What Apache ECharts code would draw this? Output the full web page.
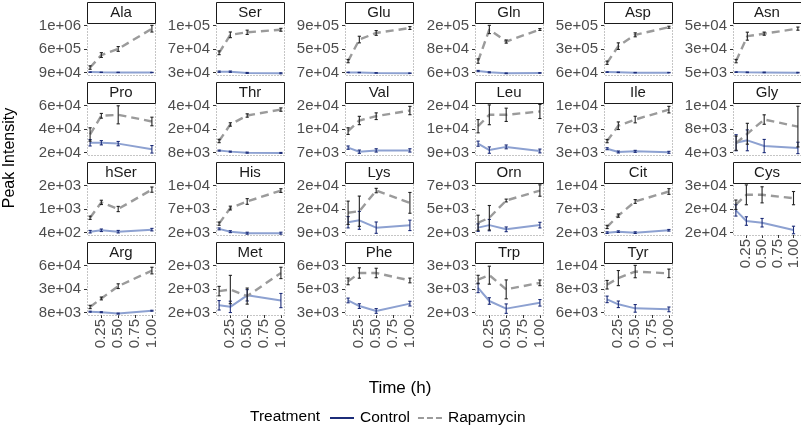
<!DOCTYPE html>
<html><head><meta charset="utf-8">
<script src="https://cdn.jsdelivr.net/npm/echarts@6/dist/echarts.min.js"></script>
<style>html,body{margin:0;padding:0;background:#fff}#c{width:801px;height:425px}</style>
</head><body><div id="c"></div>
<script>
// ---- data ----
const amino = ['Ala','Ser','Glu','Gln','Asp','Asn','Pro','Thr','Val','Leu','Ile','Gly','hSer','His','Lys','Orn','Cit','Cys','Arg','Met','Phe','Trp','Tyr'];
const times = [0.0833, 0.25, 0.5, 1.0];
const xTickValues = [0.25, 0.5, 0.75, 1.0];
const xTickLabels = ['0.25','0.50','0.75','1.00'];
// y breaks (bottom, middle, top) and their printed labels
const yTickValues = [
  [9e4,5.45e5,1.0e6],[3e4,6.75e4,1.05e5],[7e4,4.85e5,9e5],[6e3,8.05e4,1.55e5],[6e4,2.75e5,4.9e5],[5e3,2.75e4,5e4],
  [1.8e4,4.0e4,6.2e4],[8e3,2.2e4,3.6e4],[7e3,1.125e4,1.55e4],[8.6e3,1.23e4,1.6e4],[3e3,6.6e3,1.02e4],[3.7e3,7.85e3,1.2e4],
  [400,1150,1900],[2.2e3,6.6e3,1.1e4],[9e3,1.65e4,2.4e4],[2e3,4.7e3,7.4e3],[2.2e3,6.6e3,1.1e4],[1.6e4,2.1e4,2.6e4],
  [8e3,3.3e4,5.8e4],[1550,2000,2450],[3.2e3,4.75e3,6.3e3],[2.0e3,2.65e3,3.3e3],[5.8e3,7.9e3,1.0e4]
];
const yTickLabels = [
  ['9e+04','6e+05','1e+06'],['3e+04','7e+04','1e+05'],['7e+04','5e+05','9e+05'],['6e+03','8e+04','2e+05'],['6e+04','3e+05','5e+05'],['5e+03','3e+04','5e+04'],
  ['2e+04','4e+04','6e+04'],['8e+03','2e+04','4e+04'],['7e+03','1e+04','2e+04'],['9e+03','1e+04','2e+04'],['3e+03','7e+03','1e+04'],['4e+03','8e+03','1e+04'],
  ['4e+02','1e+03','2e+03'],['2e+03','7e+03','1e+04'],['9e+03','2e+04','2e+04'],['2e+03','5e+03','7e+03'],['2e+03','7e+03','1e+04'],['2e+04','2e+04','3e+04'],
  ['8e+03','3e+04','6e+04'],['2e+03','2e+03','2e+03'],['3e+03','5e+03','6e+03'],['2e+03','3e+03','3e+03'],['6e+03','8e+03','1e+04']
];
const controlMean = [
  [1.0e5,9.6e4,9.5e4,9.3e4],[3.15e4,3.15e4,2.95e4,2.9e4],[7.4e4,7.2e4,6.5e4,6.0e4],[1.1e4,7e3,4e3,5e3],[6.5e4,6.3e4,6.0e4,6.0e4],[5.5e3,5.3e3,5.2e3,5.0e3],
  [2.72e4,2.72e4,2.64e4,2.11e4],[9.2e3,8.6e3,8.0e3,7.8e3],[7.9e3,7.17e3,7.4e3,7.4e3],[1.0e4,9.0e3,9.5e3,8.86e3],[3.6e3,3.1e3,3.2e3,3.05e3],[5.44e3,5.86e3,4.86e3,4.53e3],
  [430,475,430,495],[2.9e3,2.38e3,2.1e3,2.1e3],[1.23e4,1.29e4,1.058e4,1.131e4],[2.57e3,2.86e3,2.38e3,2.86e3],[2.2e3,2.38e3,2.2e3,2.64e3],[2.07e4,1.845e4,1.81e4,1.656e4],
  [9e3,8.5e3,7e3,1.0e4],[1690,1660,1880,1780],[4.0e3,3.63e3,3.31e3,3.79e3],[2.68e3,2.32e3,2.11e3,2.27e3],[6.98e3,6.54e3,6.18e3,6.09e3]
];
const controlSE = [
  [4e3,3e3,3e3,3e3],[1e3,1e3,800,800],[4e3,3e3,3e3,3e3],[2e3,1.5e3,1e3,1e3],[3e3,2e3,2e3,2e3],[300,300,300,300],
  [3e3,2e3,2e3,3.5e3],[300,300,300,300],[300,300,300,300],[400,500,300,300],[150,150,150,150],[1410,1830,1160,1000],
  [40,40,40,40],[180,180,180,180],[1800,2850,1800,1650],[430,650,270,320],[150,150,150,150],[1200,900,900,800],
  [500,500,500,500],[90,108,108,135],[155,155,155,155],[130,90,130,90],[290,290,340,210]
];
const rapaMean = [
  [1.88e5,4.29e5,5.46e5,9.36e5],[6.15e4,9.0e4,9.4e4,9.8e4],[2.73e5,6.51e5,7.67e5,8.53e5],[4.25e4,1.42e5,1.04e5,1.42e5],[1.5e5,3.01e5,4.04e5,4.73e5],[1.6e4,3.97e4,4.21e4,4.69e4],
  [3.49e4,5.23e4,5.32e4,4.7e4],[1.49e4,2.47e4,3.0e4,3.35e4],[1.087e4,1.278e4,1.355e4,1.457e4],[1.274e4,1.452e4,1.452e4,1.504e4],[4.76e3,7.1e3,8.04e3,9.55e3],[5.36e3,7.02e3,9.51e3,8.27e3],
  [872,1360,1150,1765],[3.87e3,6.78e3,8.0e3,1.003e4],[1.53e4,1.58e4,2.235e4,1.845e4],[3.13e3,3.7e3,5.67e3,6.81e3],[3.26e3,5.37e3,8.0e3,9.86e3],[2.19e4,2.4e4,2.4e4,2.33e4],
  [1.4e4,2.3e4,3.6e4,5.25e4],[1960,1990,1865,2306],[5.25e3,5.8e3,5.8e3,5.31e3],[2.91e3,3.03e3,2.64e3,2.82e3],[8.28e3,8.87e3,9.45e3,9.29e3]
];
const rapaSE = [
  [3.3e4,4.6e4,4.6e4,6.4e4],[3e3,4.5e3,3.4e3,2.3e3],[2.9e4,5.8e4,4.2e4,2.5e4],[7e3,1.3e4,5e3,3e3],[1.5e4,3e4,1.8e4,9e3],[1.6e3,3.8e3,1.5e3,1.5e3],
  [6.2e3,2.2e3,8.4e3,4e3],[1e3,1e3,1e3,1e3],[600,750,600,750],[1040,1550,1040,1100],[250,580,500,500],[1250,1830,830,3570],
  [52,68,83,83],[300,350,530,350],[3700,4800,700,3300],[860,1400,160,650],[300,300,350,530],[1000,2100,1700,1400],
  [1750,1500,2500,3500],[90,270,153,108],[220,340,310,155],[117,247,260,78],[380,670,550,380]
];

// ---- layout / styles ----
const FONT = 'Liberation Sans, Arial, Helvetica, sans-serif';
const colLeft = c => Math.round(87 + c * 129.2);
const PW = 68, PH = 52;
const navy = '#1c2c78', ctrlLine = '#8da1d1', rapaLine = '#9b9b9b', rapaBar = '#222222';

const grids = [], xAxes = [], yAxes = [], series = [], graphics = [];

function errRender(color) {
  return function (params, api) {
    const x = api.value(0), lo = api.value(1), hi = api.value(2);
    const p1 = api.coord([x, lo]), p2 = api.coord([x, hi]);
    const w = 1.6;
    const st = { stroke: color, lineWidth: 1.1 };
    return { type: 'group', children: [
      { type: 'line', shape: { x1: p1[0], y1: p1[1], x2: p2[0], y2: p2[1] }, style: st },
      { type: 'line', shape: { x1: p1[0] - w, y1: p1[1], x2: p1[0] + w, y2: p1[1] }, style: st },
      { type: 'line', shape: { x1: p2[0] - w, y1: p2[1], x2: p2[0] + w, y2: p2[1] }, style: st }
    ]};
  };
}

amino.forEach((name, i) => {
  let row, col;
  if (i < 18) { row = Math.floor(i / 6); col = i % 6; } else { row = 3; col = i - 18; }
  const left = colLeft(col), top = 23 + row * 80;
  const bottomPanel = (i >= 18) || i === 17;
  grids.push({ left: left, top: top, width: PW, height: PH, show: false });
  const tMin = times[0], tMax = times[times.length - 1], tR = tMax - tMin;
  xAxes.push({
    type: 'value', gridIndex: i, min: tMin - 0.05 * tR, max: tMax + 0.05 * tR,
    axisLine: { show: false }, splitLine: { show: false },
    axisTick: { show: bottomPanel, customValues: xTickValues, length: 3, lineStyle: { color: '#333' } },
    axisLabel: { show: bottomPanel, customValues: xTickValues, rotate: 90, margin: 4,
      fontSize: 15, color: '#4d4d4d', fontFamily: FONT,
      formatter: v => { const k = xTickValues.findIndex(t => Math.abs(t - v) < 1e-6); return k >= 0 ? xTickLabels[k] : ''; } }
  });
  const yb = yTickValues[i], yr = yb[2] - yb[0];
  yAxes.push({
    type: 'value', gridIndex: i, min: yb[0] - 0.05 * yr, max: yb[2] + 0.05 * yr,
    axisLine: { show: false }, splitLine: { show: false },
    axisTick: { show: true, customValues: yb, length: 3, lineStyle: { color: '#333' } },
    axisLabel: { show: true, customValues: yb, margin: 6, fontSize: 15, color: '#4d4d4d', fontFamily: FONT,
      formatter: v => { let k = 0, d = Infinity; yb.forEach((b, j) => { const dd = Math.abs(b - v); if (dd < d) { d = dd; k = j; } }); return yTickLabels[i][k]; } }
  });
  // panel border (dotted)
  graphics.push({ type: 'rect', shape: { x: left + 0.5, y: top + 0.5, width: PW, height: PH },
    style: { fill: 'none', stroke: '#8a8a8a', lineWidth: 1, lineDash: [1, 2] }, z: 1, silent: true });
  // strip
  graphics.push({ type: 'rect', shape: { x: left + 0.5, y: top - 20.5, width: PW, height: 21 },
    style: { fill: '#ffffff', stroke: '#1a1a1a', lineWidth: 1 }, z: 2, silent: true });
  graphics.push({ type: 'text', x: left + PW / 2, y: top - 10,
    style: { text: name, fontSize: 15, fontFamily: FONT, fill: '#1a1a1a', align: 'center', verticalAlign: 'middle' }, z: 3, silent: true });

  series.push({ name: 'Control', type: 'line', xAxisIndex: i, yAxisIndex: i, symbol: 'none',
    data: times.map((t, k) => [t, controlMean[i][k]]), lineStyle: { color: ctrlLine, width: 2 }, itemStyle: { color: navy }, z: 2, animation: false });
  series.push({ name: 'Rapamycin', type: 'line', xAxisIndex: i, yAxisIndex: i, symbol: 'none',
    data: times.map((t, k) => [t, rapaMean[i][k]]), lineStyle: { color: rapaLine, width: 2.4, type: [8, 5] }, itemStyle: { color: rapaLine }, z: 2, animation: false });
  series.push({ name: 'ctrlErr' + i, type: 'custom', xAxisIndex: i, yAxisIndex: i, renderItem: errRender(navy),
    data: times.map((t, k) => [t, controlMean[i][k] - controlSE[i][k], controlMean[i][k] + controlSE[i][k]]),
    encode: { x: 0, y: [1, 2] }, z: 3, animation: false });
  series.push({ name: 'rapaErr' + i, type: 'custom', xAxisIndex: i, yAxisIndex: i, renderItem: errRender(rapaBar),
    data: times.map((t, k) => [t, rapaMean[i][k] - rapaSE[i][k], rapaMean[i][k] + rapaSE[i][k]]),
    encode: { x: 0, y: [1, 2] }, z: 3, animation: false });
});

graphics.push({ type: 'text', x: 10, y: 158, rotation: Math.PI / 2,
  style: { text: 'Peak Intensity', fontSize: 16, fontFamily: FONT, fill: '#000', align: 'center', verticalAlign: 'middle' } });
graphics.push({ type: 'text', x: 400, y: 388,
  style: { text: 'Time (h)', fontSize: 17, fontFamily: FONT, fill: '#000', align: 'center', verticalAlign: 'middle' } });
graphics.push({ type: 'text', x: 250, y: 417,
  style: { text: 'Treatment', fontSize: 15.5, fontFamily: FONT, fill: '#000', align: 'left', verticalAlign: 'middle' } });

const chart = echarts.init(document.getElementById('c'), null, { renderer: 'canvas' });
chart.setOption({
  animation: false,
  grid: grids, xAxis: xAxes, yAxis: yAxes, series: series, graphic: graphics,
  legend: {
    left: 330, top: 410, padding: 0, itemWidth: 24, itemHeight: 14, itemGap: 8,
    textStyle: { fontSize: 15.5, fontFamily: FONT, color: '#000', padding: [0, 0, 0, 1] },
    data: [
      { name: 'Control', icon: 'path://M0,6 L24,6 L24,8 L0,8 Z', itemStyle: { color: navy } },
      { name: 'Rapamycin', icon: 'path://M0,6 L6,6 L6,8 L0,8 Z M9,6 L15,6 L15,8 L9,8 Z M18,6 L24,6 L24,8 L18,8 Z', itemStyle: { color: rapaLine } }
    ]
  }
});
</script></body></html>
